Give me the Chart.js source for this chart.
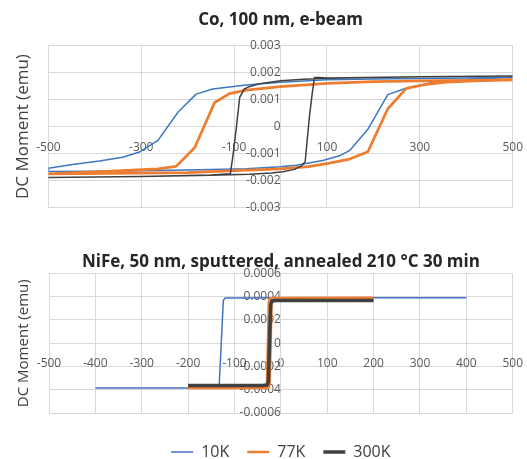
<!DOCTYPE html>
<html>
<head>
<meta charset="utf-8">
<script src="https://cdn.jsdelivr.net/npm/chart.js@4.4.1/dist/chart.umd.min.js"></script>
<style>
  html, body { margin: 0; padding: 0; background: #fff; overflow: hidden; }
  #top { position: absolute; left: 0; top: 0; width: 527px; height: 228px; }
  #bottom { position: absolute; left: 0; top: 225px; width: 527px; height: 245px; }
</style>
</head>
<body>
<div id="bottom"><canvas id="chartNiFe"></canvas></div>
<div id="top"><canvas id="chartCo"></canvas></div>
<script>
const seriesNames = ['10K', '77K', '300K'];

// Co, 100 nm, e-beam: loops run +500 -> -500 -> +500 (Oe), moment in emu
const coField10K = [500, 400, 300, 200, 100, 0, -74, -146, -182, -221, -264, -304, -340, -390, -448, -500,
  -500, -400, -300, -175, -74, 0, 34, 91, 127, 149, 188, 231, 267, 320, 364, 430, 500];
const coMoment10K = [1.82e-3, 1.80e-3, 1.78e-3, 1.76e-3, 1.73e-3, 1.64e-3, 1.54e-3, 1.39e-3, 1.20e-3, 0.53e-3, -0.51e-3, -0.94e-3, -1.13e-3, -1.27e-3, -1.40e-3, -1.54e-3,
  -1.66e-3, -1.65e-3, -1.63e-3, -1.59e-3, -1.56e-3, -1.48e-3, -1.43e-3, -1.25e-3, -1.08e-3, -0.88e-3, -0.10e-3, 1.18e-3, 1.40e-3, 1.60e-3, 1.69e-3, 1.76e-3, 1.82e-3];

const coField77K = [500, 400, 300, 200, 100, 0, -74, -110, -142, -185, -225, -264, -376, -500,
  -500, -300, -200, -100, 0, 60, 105, 149, 188, 231, 271, 310, 357, 420, 500];
const coMoment77K = [1.73e-3, 1.71e-3, 1.69e-3, 1.66e-3, 1.60e-3, 1.48e-3, 1.35e-3, 1.22e-3, 0.89e-3, -0.78e-3, -1.47e-3, -1.56e-3, -1.65e-3, -1.75e-3,
  -1.75e-3, -1.72e-3, -1.70e-3, -1.63e-3, -1.56e-3, -1.48e-3, -1.35e-3, -1.20e-3, -0.93e-3, 0.66e-3, 1.41e-3, 1.55e-3, 1.64e-3, 1.69e-3, 1.73e-3];

const coField300K = [500, 300, 100, 50, 0, -45, -70, -78, -88, -95, -102, -108, -150, -300, -500,
  -500, -300, -150, -67, -20, 5, 30, 45, 53, 62, 68, 73, 84, 100, 300, 500];
const coMoment300K = [1.87e-3, 1.84e-3, 1.79e-3, 1.75e-3, 1.69e-3, 1.58e-3, 1.46e-3, 1.39e-3, 1.08e-3, 0, -1.00e-3, -1.74e-3, -1.79e-3, -1.84e-3, -1.88e-3,
  -1.88e-3, -1.84e-3, -1.80e-3, -1.76e-3, -1.71e-3, -1.67e-3, -1.58e-3, -1.45e-3, -1.30e-3, 0.34e-3, 1.20e-3, 1.81e-3, 1.81e-3, 1.80e-3, 1.84e-3, 1.87e-3];

// NiFe, 50 nm, sputtered, annealed
const nifeField10K = [-400, -200, -137, -133, -124, -120, 0, 400];
const nifeMoment10K = [-3.86e-4, -3.85e-4, -3.83e-4, -3.60e-4, 3.70e-4, 3.89e-4, 3.90e-4, 3.90e-4];

const nifeField77K = [200, 0, -24, -26, -30, -33, -200,
  -200, -27, -24, -20, -17, 0, 200];
const nifeMoment77K = [3.90e-4, 3.89e-4, 3.86e-4, 3.50e-4, -3.50e-4, -3.84e-4, -3.86e-4,
  -3.86e-4, -3.85e-4, -3.50e-4, 3.50e-4, 3.86e-4, 3.89e-4, 3.90e-4];

const nifeField300K = [-200, -40, -30, -27, -22, -19, -10, 200];
const nifeMoment300K = [-3.63e-4, -3.63e-4, -3.60e-4, -3.30e-4, 3.30e-4, 3.63e-4, 3.67e-4, 3.68e-4];

// tick labels
const coFieldTicks = [-500, -300, -100, 100, 300, 500];
const coMomentTicks = [-0.003, -0.002, -0.001, 0, 0.001, 0.002, 0.003];
const nifeFieldTicks = [-500, -400, -300, -200, -100, 0, 100, 200, 300, 400, 500];
const nifeMomentTicks = [-0.0006, -0.0004, -0.0002, 0, 0.0002, 0.0004, 0.0006];

const toPoints = (xs, ys) => xs.map((x, i) => ({ x: x, y: ys[i] }));
const momentLabel = (v) => v === 0 ? '0' : String(Number(v.toPrecision(3)));
const FONT = '"Open Sans", "DejaVu Sans", sans-serif';

function series(label, xs, ys, color, width, order) {
  return {
    label: label,
    data: toPoints(xs, ys),
    showLine: true,
    borderColor: color,
    backgroundColor: color,
    borderWidth: width,
    borderJoinStyle: 'round',
    pointRadius: 0,
    pointHoverRadius: 0,
    order: order,
    yAxisID: 'y'
  };
}

function makeChart(id, cfg) {
  return new Chart(document.getElementById(id), {
    type: 'scatter',
    data: { datasets: cfg.datasets },
    options: {
      responsive: true,
      maintainAspectRatio: false,
      animation: false,
      layout: { padding: cfg.padding },
      plugins: {
        title: {
          display: true,
          text: cfg.title,
          fullSize: false,
          color: '#262626',
          font: { family: FONT, size: 17, weight: 'bold' },
          padding: cfg.titlePadding
        },
        legend: cfg.legend,
        tooltip: { enabled: false }
      },
      scales: {
        x: {
          type: 'linear',
          position: { y: 0 },
          min: -500,
          max: 500,
          afterBuildTicks: (s) => { s.ticks = cfg.xTicks.map(v => ({ value: v })); },
          grid: { color: '#d9d9d9', drawTicks: false },
          border: { color: '#d9d9d9' },
          // tall line box pushes the labels below the zero line without a big padding
          ticks: { padding: 4, color: '#595959', font: { family: FONT, size: 12, lineHeight: 2.8 }, maxRotation: 0, autoSkip: false }
        },
        y: {
          type: 'linear',
          position: { x: 0 },
          min: cfg.yTicks[0],
          max: cfg.yTicks[cfg.yTicks.length - 1],
          afterBuildTicks: (s) => { s.ticks = cfg.yTicks.map(v => ({ value: v })); },
          grid: { color: '#d9d9d9', drawTicks: false },
          border: { color: '#d9d9d9' },
          ticks: { padding: 13, color: '#595959', font: { family: FONT, size: 12 }, callback: momentLabel, autoSkip: false }
        },
        yTitle: {
          type: 'linear',
          position: 'left',
          min: 0,
          max: 1,
          ticks: { display: false },
          grid: { display: false, drawTicks: false },
          border: { display: false },
          title: {
            display: true,
            text: 'DC Moment (emu)',
            color: '#404040',
            font: { family: FONT, size: cfg.yTitleSize },
            padding: cfg.yTitlePadding
          }
        }
      }
    }
  });
}

makeChart('chartCo', {
  title: 'Co, 100 nm, e-beam',
  titlePadding: { top: 10, bottom: 15 },
  padding: { left: 9, right: 14, top: 0, bottom: 0 },
  yTitleSize: 17,
  yTitlePadding: { top: 4, bottom: 15 },
  xTicks: coFieldTicks,
  yTicks: coMomentTicks,
  legend: { display: false },
  datasets: [
    series(seriesNames[0], coField10K, coMoment10K, '#3a78c2', 1.5, 3),
    series(seriesNames[1], coField77K, coMoment77K, '#ed7d31', 2.75, 2),
    series(seriesNames[2], coField300K, coMoment300K, '#404040', 1.5, 1)
  ]
});

makeChart('chartNiFe', {
  title: 'NiFe, 50 nm, sputtered, annealed 210 °C 30 min',
  titlePadding: { top: 27, bottom: 1 },
  padding: { left: 10, right: 14, top: 0, bottom: 0 },
  yTitleSize: 15,
  yTitlePadding: { top: 5, bottom: 16 },
  xTicks: nifeFieldTicks,
  yTicks: nifeMomentTicks,
  legend: {
    display: true,
    position: 'bottom',
    fullSize: false,
    title: { display: true, text: '', font: { size: 1, lineHeight: 1 }, padding: { top: 12, bottom: 0 } },
    labels: {
      usePointStyle: true,
      pointStyle: 'line',
      pointStyleWidth: 22,
      padding: 18,
      color: '#404040',
      font: { family: FONT, size: 16 },
      sort: (a, b) => a.datasetIndex - b.datasetIndex
    }
  },
  datasets: [
    series(seriesNames[0], nifeField10K, nifeMoment10K, '#4472c4', 1.5, 3),
    series(seriesNames[1], nifeField77K, nifeMoment77K, '#ed7d31', 2.5, 2),
    series(seriesNames[2], nifeField300K, nifeMoment300K, '#404040', 3.5, 1)
  ]
});
</script>
</body>
</html>
